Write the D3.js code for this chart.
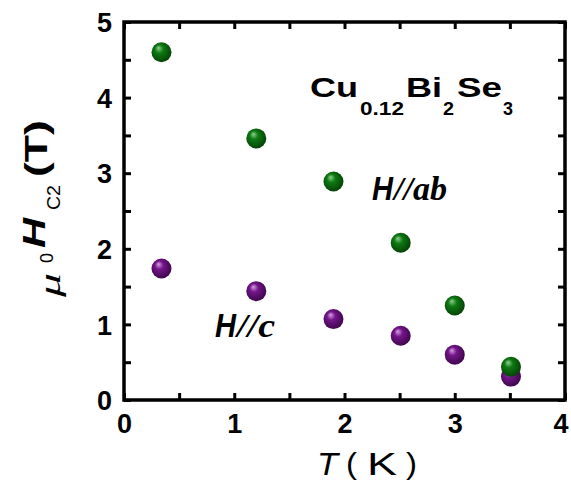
<!DOCTYPE html>
<html>
<head>
<meta charset="utf-8">
<script src="https://cdn.jsdelivr.net/npm/d3@7"></script>
<style>
  html, body { margin: 0; padding: 0; background: #fff; }
  svg { display: block; }
</style>
</head>
<body>
<svg id="chart" width="571" height="482"></svg>
<script>
// Upper critical field of Cu0.12Bi2Se3 for two field orientations
const temperatures = [0.34, 1.2, 1.9, 2.51, 3.0, 3.51];
const hcAb = [4.6, 3.46, 2.89, 2.08, 1.25, 0.44];   // H // ab
const hcC  = [1.74, 1.44, 1.07, 0.85, 0.60, 0.31];  // H // c
const xTicks = [0, 0.5, 1, 1.5, 2, 2.5, 3, 3.5, 4];
const yTicks = [0, 0.5, 1, 1.5, 2, 2.5, 3, 3.5, 4, 4.5, 5];

const svg = d3.select("#chart");
const plotLeft = 124, plotRight = 565, plotTop = 22, plotBottom = 400;

const x = d3.scaleLinear().domain([0, 4]).range([plotLeft, plotRight]);
const y = d3.scaleLinear().domain([0, 5]).range([plotBottom, plotTop]);

const sans = "'Liberation Sans', Arial, sans-serif";
const serif = "'Liberation Serif', 'Times New Roman', serif";

// sphere-like marker gradients
const defs = svg.append("defs");
function sphere(id, hi, mid, edge) {
  const g = defs.append("radialGradient").attr("id", id)
    .attr("cx", "45%").attr("cy", "45%").attr("r", "60%")
    .attr("fx", "35%").attr("fy", "28%");
  g.append("stop").attr("offset", "0%").attr("stop-color", hi);
  g.append("stop").attr("offset", "35%").attr("stop-color", mid);
  g.append("stop").attr("offset", "100%").attr("stop-color", edge);
}
sphere("gGreen", "#8fd08f", "#0e7a12", "#053d06");
sphere("gPurple", "#d8a0e6", "#74168a", "#3a0546");

// axes with inward ticks on all four sides
const tickLen = 7;
function fmt(d) { return Number.isInteger(d) ? d3.format("d")(d) : ""; }

const xAxis = svg.append("g").attr("transform", `translate(0,${plotBottom})`)
  .call(d3.axisBottom(x).tickValues(xTicks).tickSize(-tickLen).tickPadding(14).tickFormat(fmt));
const xTop = svg.append("g").attr("transform", `translate(0,${plotTop})`)
  .call(d3.axisTop(x).tickValues(xTicks).tickSize(-tickLen).tickFormat(""));
const yAxis = svg.append("g").attr("transform", `translate(${plotLeft},0)`)
  .call(d3.axisLeft(y).tickValues(yTicks).tickSize(-tickLen).tickPadding(12).tickFormat(fmt));
const yRight = svg.append("g").attr("transform", `translate(${plotRight},0)`)
  .call(d3.axisRight(y).tickValues(yTicks).tickSize(-tickLen).tickFormat(""));

[xAxis, xTop, yAxis, yRight].forEach(a => {
  a.select(".domain").remove();
  a.selectAll(".tick line").attr("stroke", "#000").attr("stroke-width", 3);
  a.selectAll(".tick text")
    .attr("font-family", sans).attr("font-weight", "bold")
    .attr("font-size", 27).attr("fill", "#000");
});
xAxis.selectAll(".tick text").attr("dy", "0.72em");
// keep the last label inside the right edge
xAxis.selectAll(".tick text").filter(d => d === 4).attr("text-anchor", "end").attr("dx", 3);
yAxis.selectAll(".tick text").attr("dy", "0.36em");

svg.append("rect")
  .attr("x", plotLeft).attr("y", plotTop)
  .attr("width", plotRight - plotLeft).attr("height", plotBottom - plotTop)
  .attr("fill", "none").attr("stroke", "#000").attr("stroke-width", 3.5);

// data points
const series = [
  { vals: hcC, fill: "url(#gPurple)" },
  { vals: hcAb, fill: "url(#gGreen)" }
];
series.forEach(s => {
  svg.append("g").selectAll("circle")
    .data(temperatures.map((t, i) => [t, s.vals[i]]))
    .join("circle")
    .attr("cx", d => x(d[0]))
    .attr("cy", d => y(d[1]))
    .attr("r", 10)
    .attr("fill", s.fill);
});

// annotations
function txt(str, px, py, opts) {
  const t = svg.append("text").attr("x", px).attr("y", py)
    .attr("font-family", opts.family || sans)
    .attr("font-size", opts.size)
    .attr("font-weight", opts.weight || "normal")
    .attr("font-style", opts.style || "normal")
    .attr("fill", "#000")
    .text(str);
  if (opts.len) t.attr("textLength", opts.len).attr("lengthAdjust", "spacingAndGlyphs");
  return t;
}

// compound formula
txt("Cu", 310, 97, { size: 28, weight: "bold", len: 48 });
txt("0.12", 360, 115, { size: 18, weight: "bold", len: 44 });
txt("Bi", 406, 97, { size: 28, weight: "bold", len: 36 });
txt("2", 443, 115, { size: 18, weight: "bold", len: 11 });
txt("Se", 457, 97, { size: 28, weight: "bold", len: 45 });
txt("3", 503, 115, { size: 18, weight: "bold", len: 10 });

// orientation labels
txt("H", 372, 200, { size: 33, weight: "bold", style: "italic", len: 21 });
txt("//ab", 394, 200, { size: 33, weight: "bold", style: "italic", family: serif, len: 53 });
txt("H", 215, 337, { size: 33, weight: "bold", style: "italic", len: 21 });
txt("//c", 237, 337, { size: 33, weight: "bold", style: "italic", family: serif, len: 38 });

// x axis title
txt("T", 317, 475, { size: 31, style: "italic", len: 21 });
txt("(", 346, 474, { size: 29, len: 11 });
txt("K", 367, 475, { size: 31, len: 30 });
txt(")", 406, 474, { size: 29, len: 11 });

// y axis title (rotated)
const yl = svg.append("g").attr("transform", "translate(0,300) rotate(-90)");
function rtxt(str, u, v, opts) {
  const t = yl.append("text").attr("x", u).attr("y", v)
    .attr("font-family", opts.family || sans)
    .attr("font-size", opts.size)
    .attr("font-weight", opts.weight || "normal")
    .attr("font-style", opts.style || "normal")
    .attr("fill", "#000")
    .text(str);
  if (opts.len) t.attr("textLength", opts.len).attr("lengthAdjust", "spacingAndGlyphs");
  return t;
}
rtxt("\u03bc", 3, 60, { size: 30, style: "italic", family: serif, len: 24 });
rtxt("0", 37, 53, { size: 18, len: 10 });
rtxt("H", 52, 45, { size: 31, weight: "bold", style: "italic", len: 30 });
rtxt("C2", 90, 60, { size: 18, len: 25 });
rtxt("(T)", 123, 47, { size: 31, weight: "bold", len: 57 });
</script>
</body>
</html>
